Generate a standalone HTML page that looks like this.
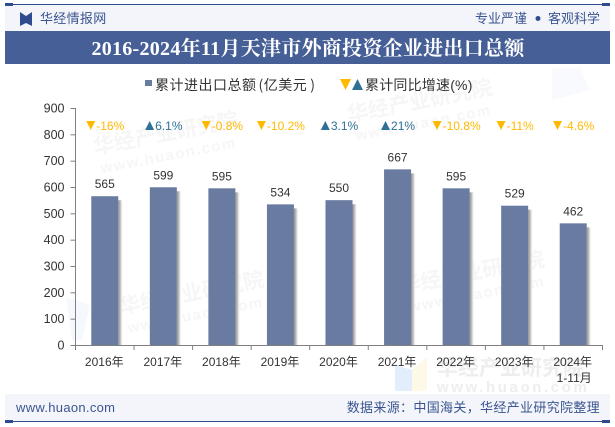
<!DOCTYPE html>
<html lang="zh">
<head>
<meta charset="utf-8">
<title>2016-2024年11月天津市外商投资企业进出口总额</title>
<style>
html,body{margin:0;padding:0;background:#fff}
svg{display:block}
text{font-family:"Liberation Sans","Noto Sans CJK SC",sans-serif}
</style>
</head>
<body>
<svg id="chart" width="615" height="427" viewBox="0 0 615 427" xmlns="http://www.w3.org/2000/svg">
  <defs>
    <linearGradient id="shadow-gradient" x1="0" y1="0" x2="1" y2="0">
      <stop offset="0" stop-color="#8f8f8f"/>
      <stop offset="0.45" stop-color="#c4c4c4"/>
      <stop offset="1" stop-color="#ffffff" stop-opacity="0"/>
    </linearGradient>
  </defs>

  <g id="watermarks">
    <g transform="rotate(-11 168 132)" fill="#f6f6f6" font-weight="bold">
      <text x="92" y="140" font-size="21">华经产业研究院</text>
      <text x="95" y="160" font-size="15" letter-spacing="1.5">www.huaon.com</text>
    </g>
    <g transform="rotate(-11 420 100)" fill="#f6f6f6" font-weight="bold">
      <text x="346" y="108" font-size="21">华经产业研究院</text>
      <text x="350" y="128" font-size="15" letter-spacing="1.5">www.huaon.com</text>
    </g>
    <g transform="rotate(-11 192 292)" fill="#f6f6f6" font-weight="bold">
      <text x="118" y="300" font-size="21">华经产业研究院</text>
      <text x="122" y="320" font-size="15" letter-spacing="1.5">www.huaon.com</text>
    </g>
    <g transform="rotate(-11 470 270)" fill="#f6f6f6" font-weight="bold">
      <text x="398" y="280" font-size="21">华经产业研究院</text>
      <text x="403" y="300" font-size="15" letter-spacing="1.5">www.huaon.com</text>
    </g>
    <polygon points="395,365 412,370 412,391 395,391" fill="#e3eefc"/>
    <polygon points="412,370 427,357 427,391 412,391" fill="#fdf9e6"/>
    <text x="437" y="375" font-size="21" font-weight="bold" fill="#eeeeee">华经产业研究院</text>
    <text x="437" y="392" font-size="15" font-weight="bold" fill="#eeeeee" letter-spacing="2.6">www.huaon.com</text>
    <polygon points="66,297 90,305 82,340 72,340" fill="#f5f9fe"/>
    <polygon points="552,68 580,68 590,90 552,100" fill="#f8fafe"/>
  </g>

  <g id="header">
    <rect x="5" y="5" width="605" height="26" fill="#f3f5fa"/>
    <rect x="5" y="4" width="605" height="1" fill="#2f4d8e"/>
    <rect x="5" y="3" width="8" height="3" fill="#2f4d8e"/>
    <rect x="602" y="3" width="8" height="3" fill="#2f4d8e"/>
    <polygon points="20,12 26,16 26,23 20,26" fill="#2f4d8e"/>
    <polygon points="32,12 26,16 26,23 32,26" fill="#2f4d8e"/>
    <text x="40" y="23" font-size="13" letter-spacing="0.3" fill="#3b5590">华经情报网</text>
    <text x="475" y="23" font-size="13" fill="#3b5590">专业严谨</text>
    <circle cx="538" cy="18.5" r="2.5" fill="#2f4d8e"/>
    <text x="548" y="23" font-size="13" fill="#3b5590">客观科学</text>
    <rect x="5" y="31" width="605" height="33" fill="#465f96"/>
    <text x="308" y="55" text-anchor="middle" font-size="20" font-weight="bold" letter-spacing="0.28" fill="#ffffff" style='font-family:"Liberation Serif","Noto Serif CJK SC",serif'>2016-2024年11月天津市外商投资企业进出口总额</text>
  </g>

  <g id="legend">
    <g>
      <rect x="145" y="80" width="7" height="6" fill="#697ba1"/>
      <text x="155" y="90" font-size="14" letter-spacing="0.5" fill="#333" style='font-family:"Noto Sans CJK SC",sans-serif'>累计进出口总额<tspan dx="2">(</tspan>亿美元<tspan dx="3">)</tspan></text>
    </g>
    <g>
      <polygon points="340,79 351,79 345.5,90" fill="#ffb900"/>
      <polygon points="352,90 363,90 357.5,79" fill="#2f7196"/>
      <text x="365" y="90" font-size="14" letter-spacing="0.2" fill="#333">累计同比增速(%)</text>
    </g>
  </g>

  <g id="plot"></g>

  <g id="footer">
    <rect x="5" y="394" width="605" height="27" fill="#f3f5fa"/>
    <rect x="5" y="421" width="605" height="1" fill="#2f4d8e"/>
    <rect x="5" y="420" width="8" height="3" fill="#2f4d8e"/>
    <rect x="602" y="420" width="8" height="3" fill="#2f4d8e"/>
    <text x="16" y="412" font-size="13" letter-spacing="0.3" fill="#3b5590">www.huaon.com</text>
    <text x="600" y="412" text-anchor="end" font-size="13" letter-spacing="0.33" fill="#3b5590">数据来源&#xFF1A;中国海关&#xFF0C;华经产业研究院整理</text>
  </g>
</svg>
<script>
const categories = ['2016年', '2017年', '2018年', '2019年', '2020年', '2021年', '2022年', '2023年', '2024年'];
const totals = [565, 599, 595, 534, 550, 667, 595, 529, 462];
const growth = [-16, 6.1, -0.8, -10.2, 3.1, 21, -10.8, -11, -4.6];
const yTicks = [0, 100, 200, 300, 400, 500, 600, 700, 800, 900];
const lastCategoryNote = '1-11月';

const plotLeft = 75.5, plotRight = 602.5, plotBase = 345, plotTop = 108;
const yMax = 900;
const barWidth = 27;
const NS = 'http://www.w3.org/2000/svg';
const plot = document.getElementById('plot');

function y(v) { return plotBase - (v / yMax) * (plotBase - plotTop); }
function band() { return (plotRight - plotLeft) / categories.length; }
function x(i) { return plotLeft + band() * (i + 0.5); }
function make(tag, attrs, text) {
  const el = document.createElementNS(NS, tag);
  for (const k in attrs) el.setAttribute(k, attrs[k]);
  if (text !== undefined) el.textContent = text;
  plot.appendChild(el);
  return el;
}

totals.forEach(function (v, i) {
  const top = y(v);
  const shadow = make('rect', { x: x(i) + barWidth / 2, y: top + 4, width: 5, height: plotBase - top - 4, fill: 'url(#shadow-gradient)' });
  
  
  const bar = make('rect', { x: x(i) - barWidth / 2, y: top, width: barWidth, height: plotBase - top, fill: '#697ba1' });
  
  
  const label = make('text', { x: x(i), y: top - 8, 'text-anchor': 'middle', 'font-size': 12, fill: '#333' }, String(v));
  
  
});

const yAxis = make('line', { x1: plotLeft, x2: plotLeft, y1: plotTop, y2: plotBase, stroke: '#808080', 'stroke-width': 1 });


const xAxis = make('line', { x1: plotLeft, x2: plotRight, y1: plotBase + 0.5, y2: plotBase + 0.5, stroke: '#808080', 'stroke-width': 1 });



yTicks.forEach(function (t) {
  const tick = make('line', { x1: plotLeft - 5, x2: plotLeft, y1: y(t) + 0.5, y2: y(t) + 0.5, stroke: '#808080', 'stroke-width': 1 });
  
  
  const label = make('text', { x: 64.5, y: y(t) + 4.5, 'text-anchor': 'end', 'font-size': 12.5, fill: '#333' }, String(t));
  
  
});

categories.forEach(function (c, i) {
  const tick = make('line', { x1: plotLeft + band() * i, x2: plotLeft + band() * i, y1: plotBase, y2: plotBase + 5, stroke: '#808080', 'stroke-width': 1 });
  
  
  const label = make('text', { x: x(i) - 0.5, y: 366, 'text-anchor': 'middle', 'font-size': 12, fill: '#333' }, c);
  
  
});
const endTick = make('line', { x1: plotRight, x2: plotRight, y1: plotBase, y2: plotBase + 5, stroke: '#808080', 'stroke-width': 1 });


const note = make('text', { x: x(categories.length - 1) + 1, y: 382, 'text-anchor': 'middle', 'font-size': 12, fill: '#333' }, lastCategoryNote);



growth.forEach(function (g, i) {
  const up = g >= 0;
  const color = up ? '#2f7196' : '#ffb900';
  const label = make('text', { x: x(i) + 5.5, y: 130, 'text-anchor': 'middle', 'font-size': 12, fill: color }, g + '%');
  
  
  const w = label.getComputedTextLength();
  const cx = x(i) + 5.5 - w / 2 - 5.5;
  const pts = up
    ? [[cx - 4.5, 130], [cx + 4.5, 130], [cx, 121]]
    : [[cx - 4.5, 121], [cx + 4.5, 121], [cx, 130]];
  const marker = make('polygon', { points: pts.map(function (p) { return p.join(','); }).join(' '), fill: color });
  
  
});
</script>
</body>
</html>
